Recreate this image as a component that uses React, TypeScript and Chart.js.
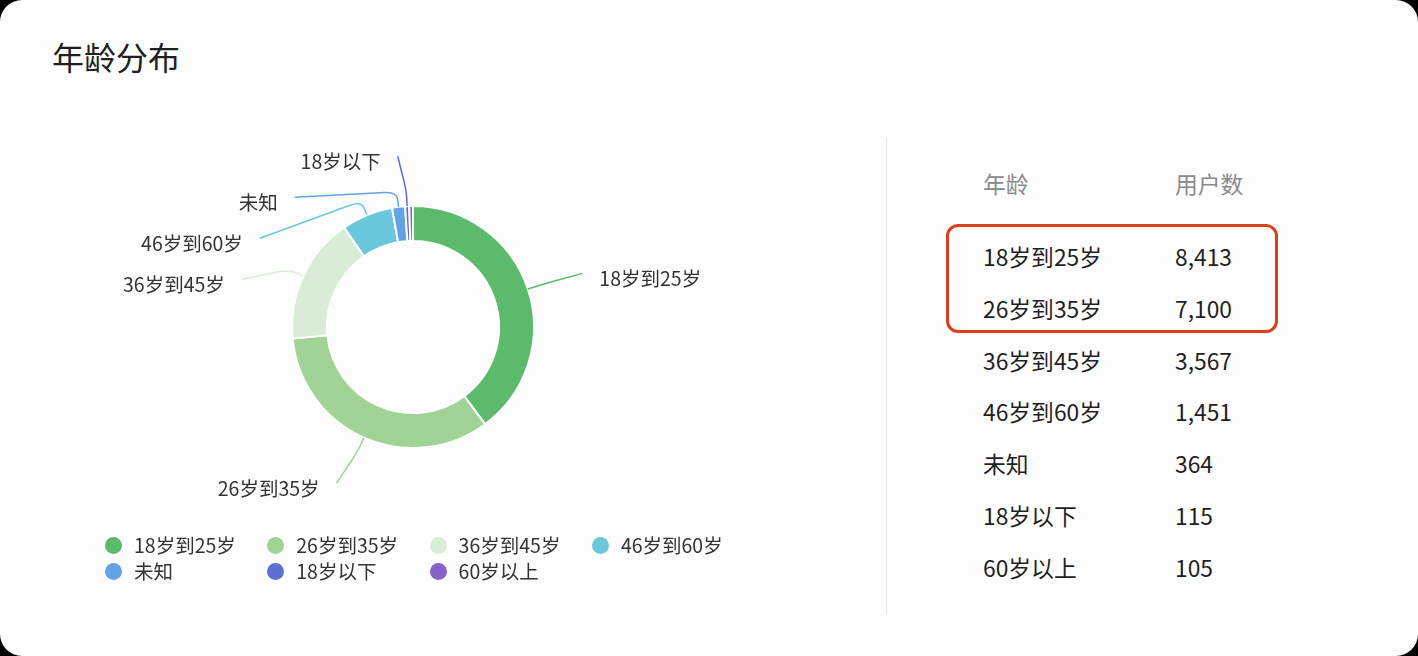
import React, { useEffect, useRef } from 'react';
import { Chart, registerables } from 'chart.js';

Chart.register(...registerables);

const titleText = '年龄分布';
const categories = ['18岁到25岁', '26岁到35岁', '36岁到45岁', '46岁到60岁', '未知', '18岁以下', '60岁以上'];
const userCounts = [8413, 7100, 3567, 1451, 364, 115, 105];
const sliceColors = ['#5cba6d', '#a1d397', '#d9edd6', '#6bc7dc', '#63a3e5', '#5e6fd0', '#8562cc'];
const tableHeaders = ['年龄', '用户数'];
const highlightedRows = [0, 1];

const FONT = '"Noto Sans CJK SC", "Noto Sans", sans-serif';
const LABEL_FONT_SIZE = 19.5;
const LABEL_MIN_RATIO = 0.005;
const LINE_LEN1 = 15;
const LABEL_RADIAL = 50;
const LINE_LEN2 = 7;
const LABEL_GAP = 41;
const TEXT_OFFSET = 17;

const outerLabelsPlugin = {
  id: 'outerLabels',
  afterDatasetsDraw(chart: any) {
    const meta = chart.getDatasetMeta(0);
    const ctx: CanvasRenderingContext2D = chart.ctx;
    const total = userCounts.reduce((a, b) => a + b, 0);
    const items: any[] = [];
    let cx = 0;
    let cy = 0;
    let r = 0;
    meta.data.forEach((arc: any, i: number) => {
      const p = arc.getProps(['x', 'y', 'startAngle', 'endAngle', 'outerRadius'], true);
      cx = p.x;
      cy = p.y;
      r = p.outerRadius;
      if (userCounts[i] / total < LABEL_MIN_RATIO) return;
      const mid = (p.startAngle + p.endAngle) / 2;
      const cos = Math.cos(mid);
      const sin = Math.sin(mid);
      const dir = cos >= 0 ? 1 : -1;
      const rA = r + LABEL_RADIAL;
      items.push({
        i,
        dir,
        p1: { x: cx + r * cos, y: cy + r * sin },
        p2: { x: cx + (r + LINE_LEN1) * cos, y: cy + (r + LINE_LEN1) * sin },
        ax: cx + rA * cos,
        y: cy + rA * sin,
        x: cx + rA * cos + dir * LINE_LEN2,
      });
    });
    const rA = r + LABEL_RADIAL;
    [-1, 1].forEach((dir) => {
      const list = items.filter((it) => it.dir === dir).sort((a, b) => a.y - b.y);
      let last = -Infinity;
      let adjusted = false;
      list.forEach((it) => {
        if (it.y < last + LABEL_GAP) {
          it.y = last + LABEL_GAP;
          adjusted = true;
        }
        last = it.y;
      });
      if (!adjusted) return;
      [true, false].forEach((top) => {
        const semi = list.filter((it) => (it.y < cy) === top);
        if (!semi.length) return;
        let far = semi[0];
        semi.forEach((it) => {
          if (Math.abs(it.y - cy) >= Math.abs(far.y - cy)) far = it;
        });
        const dy0 = Math.abs(far.y - cy);
        const dx0 = far.ax - cx;
        const rB = Math.abs(dx0) < rA ? Math.sqrt((dy0 * dy0) / (1 - (dx0 * dx0) / (rA * rA))) : rA;
        semi.forEach((it) => {
          const dy = Math.abs(it.y - cy);
          const dx = Math.sqrt(Math.max(0, 1 - (dy * dy) / (rB * rB))) * rA;
          it.x = cx + dir * (dx + LINE_LEN2);
        });
      });
    });

    ctx.save();
    items.forEach((it) => {
      const { p1, p2 } = it;
      const p3 = { x: it.x, y: it.y };
      const m1 = { x: (p1.x + p2.x) / 2, y: (p1.y + p2.y) / 2 };
      const d23 = Math.hypot(p3.x - p2.x, p3.y - p2.y) || 1;
      const t = Math.min(12, d23 / 2) / d23;
      const m2 = { x: p2.x + (p3.x - p2.x) * t, y: p2.y + (p3.y - p2.y) * t };
      ctx.beginPath();
      ctx.moveTo(p1.x, p1.y);
      ctx.lineTo(m1.x, m1.y);
      ctx.quadraticCurveTo(p2.x, p2.y, m2.x, m2.y);
      ctx.lineTo(p3.x, p3.y);
      ctx.strokeStyle = sliceColors[it.i];
      ctx.lineWidth = 1.5;
      ctx.stroke();
      ctx.font = `${LABEL_FONT_SIZE}px ${FONT}`;
      ctx.fillStyle = '#333333';
      ctx.textAlign = it.dir > 0 ? 'left' : 'right';
      ctx.textBaseline = 'middle';
      ctx.fillText(categories[it.i], p3.x + it.dir * TEXT_OFFSET, p3.y + 5);
    });
    ctx.restore();
  },
};

function DonutChart() {
  const ref = useRef<HTMLCanvasElement | null>(null);
  useEffect(() => {
    if (!ref.current) return;
    const chart = new Chart(ref.current, {
      type: 'doughnut',
      data: {
        labels: categories,
        datasets: [
          {
            data: userCounts,
            backgroundColor: sliceColors,
            borderColor: '#ffffff',
            borderWidth: 2,
            radius: 121,
          } as any,
        ],
      },
      options: {
        animation: false,
        responsive: false,
        events: [],
        cutout: '71.1%',
        layout: { padding: 0 },
        plugins: {
          legend: { display: false },
          tooltip: { enabled: false },
        },
      } as any,
      plugins: [outerLabelsPlugin],
    });
    return () => chart.destroy();
  }, []);
  return (
    <canvas
      ref={ref}
      width={826}
      height={454}
      style={{ position: 'absolute', left: 0, top: 100, width: 826, height: 454 }}
    />
  );
}

const ROW_START = 258;
const ROW_PITCH = 51.8;
const rowCenter = (i: number) => ROW_START + i * ROW_PITCH;
const TABLE_FONT = 22.8;

export default function App() {
  const boxTop = rowCenter(highlightedRows[0]) - 34;
  const boxBottom = rowCenter(highlightedRows[highlightedRows.length - 1]) + 23;
  const cell = (top: number, left: number, color: string, text: string, key?: string) => (
    <div
      key={key}
      style={{
        position: 'absolute',
        left,
        top: top - 16,
        fontSize: TABLE_FONT,
        lineHeight: '30px',
        color,
        whiteSpace: 'nowrap',
      }}
    >
      {text}
    </div>
  );
  return (
    <div style={{ position: 'fixed', left: 0, top: 0, width: 1418, height: 656, background: '#000', fontFamily: FONT }}>
      <div
        style={{
          position: 'absolute',
          left: 0,
          top: 0,
          width: 1418,
          height: 656,
          borderRadius: 22,
          background: '#fefdfe',
          overflow: 'hidden',
        }}
      >
        <div style={{ position: 'absolute', left: 52, top: 34, fontSize: 32, lineHeight: '44px', color: '#1f1f1f' }}>
          {titleText}
        </div>
        <DonutChart />
        <div
          style={{
            position: 'absolute',
            left: 105,
            top: 532,
            display: 'grid',
            gridTemplateColumns: 'repeat(4, 162.3px)',
            gridAutoRows: '26px',
          }}
        >
          {categories.map((c, i) => (
            <div key={c} style={{ display: 'flex', alignItems: 'center', fontSize: LABEL_FONT_SIZE, color: '#333' }}>
              <span
                style={{
                  display: 'inline-block',
                  width: 17,
                  height: 17,
                  borderRadius: '50%',
                  background: sliceColors[i],
                  marginRight: 12,
                  flex: 'none',
                }}
              />
              <span style={{ lineHeight: '26px', whiteSpace: 'nowrap' }}>{c}</span>
            </div>
          ))}
        </div>
        <div style={{ position: 'absolute', left: 886, top: 137, width: 1, height: 478, background: '#e8e8e8' }} />
        {cell(185, 983, '#8a8a8a', tableHeaders[0])}
        {cell(185, 1175, '#8a8a8a', tableHeaders[1])}
        {categories.map((c, i) => (
          <React.Fragment key={c}>
            {cell(rowCenter(i), 983, '#1f1f1f', c)}
            {cell(rowCenter(i), 1175, '#1f1f1f', userCounts[i].toLocaleString('en-US'))}
          </React.Fragment>
        ))}
        <div
          style={{
            position: 'absolute',
            left: 946,
            top: boxTop,
            width: 332,
            height: boxBottom - boxTop,
            border: '3px solid #d9401d',
            borderRadius: 12,
            boxSizing: 'border-box',
          }}
        />
      </div>
    </div>
  );
}
